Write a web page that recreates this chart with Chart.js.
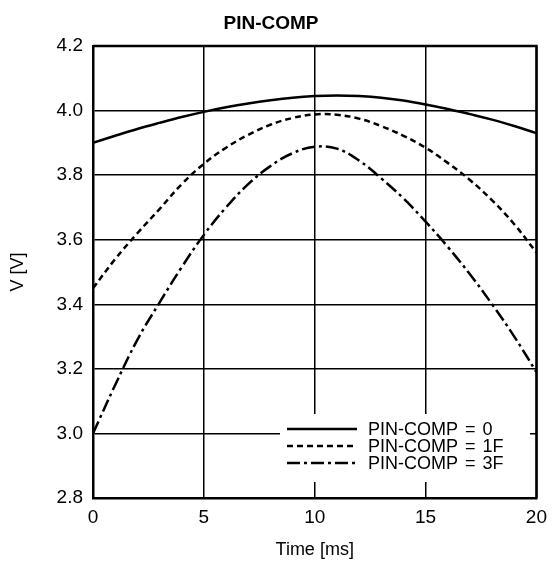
<!DOCTYPE html>
<html>
<head>
<meta charset="utf-8">
<script src="https://cdn.jsdelivr.net/npm/chart.js@4/dist/chart.umd.min.js"></script>
<style>
  html, body { margin: 0; padding: 0; background: #fff; }
  #wrap { width: 555px; height: 566px; }
</style>
</head>
<body>
<div id="wrap"><canvas id="myChart" width="555" height="566"></canvas></div>
<script>
let times = [0, 1, 2, 3, 4, 5, 6, 7, 8, 9, 10, 11, 12, 13, 14, 15, 16, 17, 18, 19, 20];
let comp0 = [3.900, 3.922, 3.943, 3.962, 3.980, 3.996, 4.010, 4.022, 4.032, 4.040, 4.045,
             4.047, 4.045, 4.040, 4.031, 4.019, 4.005, 3.989, 3.972, 3.952, 3.930];
let comp1F = [3.450, 3.540, 3.620, 3.695, 3.772, 3.835, 3.885, 3.925, 3.956, 3.977, 3.988,
              3.987, 3.975, 3.952, 3.922, 3.885, 3.838, 3.785, 3.722, 3.648, 3.560];
let comp3F = [3.000, 3.150, 3.290, 3.405, 3.515, 3.615, 3.700, 3.772, 3.828, 3.868, 3.888,
              3.882, 3.845, 3.790, 3.728, 3.656, 3.578, 3.493, 3.400, 3.300, 3.190];
let seriesLabels = ["PIN-COMP = 0", "PIN-COMP = 1F", "PIN-COMP = 3F"];

const FONT = "'Liberation Sans', Arial, Helvetica, sans-serif";
const dashes = [[], [6, 4], [13, 4, 3, 4]];

function pts(ys) {
  return times.map((t, i) => ({ x: t, y: ys[i] }));
}

let data = {
  datasets: [comp0, comp1F, comp3F].map((ys, i) => ({
    label: seriesLabels[i],
    data: pts(ys),
    borderColor: "#000",
    borderWidth: 2.5,
    borderDash: dashes[i],
    pointRadius: 0,
    tension: 0.4,
    fill: false,
  })),
};

// legend drawn inside the plot, lower right, on a white patch
const boxLegend = {
  id: "boxLegend",
  beforeDatasetsDraw(chart) {
    const ctx = chart.ctx;
    ctx.save();
    ctx.fillStyle = "#fff";
    ctx.fillRect(280, 414, 250, 68);
    ctx.restore();
  },
  afterDatasetsDraw(chart) {
    const ctx = chart.ctx;
    ctx.save();
    ctx.font = "18px " + FONT;
    ctx.wordSpacing = "2px";
    ctx.textBaseline = "middle";
    ctx.fillStyle = "#000";
    chart.data.datasets.forEach((ds, i) => {
      const y = 429 + i * 17;
      ctx.strokeStyle = "#000";
      ctx.lineWidth = 2.5;
      ctx.setLineDash(ds.borderDash);
      ctx.beginPath();
      ctx.moveTo(287, y);
      ctx.lineTo(357, y);
      ctx.stroke();
      ctx.setLineDash([]);
      ctx.fillText(ds.label, 368, y + 1);
    });
    ctx.restore();
  },
};

// top and right frame lines
const frame = {
  id: "frame",
  afterDraw(c) {
    const a = c.chartArea, ctx = c.ctx;
    ctx.save();
    ctx.strokeStyle = "#000";
    ctx.lineWidth = 2.5;
    ctx.beginPath();
    ctx.moveTo(a.left, a.top);
    ctx.lineTo(a.right, a.top);
    ctx.lineTo(a.right, a.bottom);
    ctx.stroke();
    ctx.restore();
  },
};

let chart = new Chart(document.getElementById("myChart"), {
  type: "line",
  data: data,
  plugins: [boxLegend, frame],
  options: {
    responsive: false,
    animation: false,
    layout: { padding: { left: 0, right: 13, top: 0, bottom: 0 } },
    plugins: {
      legend: { display: false },
      tooltip: { enabled: false },
      title: {
        display: true,
        text: "PIN-COMP",
        color: "#000",
        font: { family: FONT, size: 19, weight: "bold", lineHeight: 1.2 },
        padding: { top: 12, bottom: 11.2 },
      },
    },
    scales: {
      x: {
        type: "linear",
        min: 0,
        max: 20,
        ticks: { stepSize: 5, color: "#000", padding: 8, font: { family: FONT, size: 19 } },
        grid: { color: "#000", lineWidth: 1.5, drawTicks: false },
        border: { color: "#000", width: 2.5 },
        title: {
          display: true,
          text: "Time [ms]",
          color: "#000",
          font: { family: FONT, size: 18 },
          padding: { top: 5, bottom: 5 },
        },
        afterFit(scale) { scale.height = 68; },
      },
      y: {
        min: 2.8,
        max: 4.2,
        ticks: {
          stepSize: 0.2,
          color: "#000",
          padding: 10,
          font: { family: FONT, size: 19 },
          callback: (v) => v.toFixed(1),
        },
        grid: { color: "#000", lineWidth: 1.5, drawTicks: false },
        border: { color: "#000", width: 2.5 },
        title: {
          display: true,
          text: "V [V]",
          color: "#000",
          font: { family: FONT, size: 18 },
          padding: { top: 7, bottom: 6 },
        },
        afterFit(scale) { scale.width = 93; },
      },
    },
  },
});
</script>
</body>
</html>
